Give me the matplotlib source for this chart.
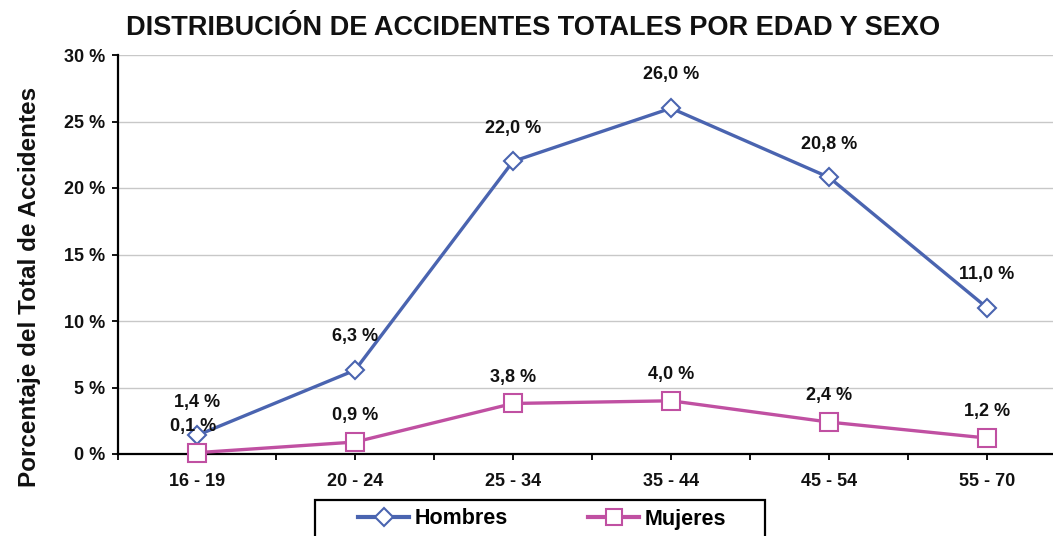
import matplotlib
matplotlib.use("Agg")
import matplotlib.pyplot as plt
from matplotlib.lines import Line2D
from matplotlib.patches import Rectangle

plt.rcParams['font.family'] = ['Liberation Sans', 'DejaVu Sans']
plt.rcParams['font.weight'] = 'bold'

edades   = ['16 - 19', '20 - 24', '25 - 34', '35 - 44', '45 - 54', '55 - 70']
hombres  = [1.4, 6.3, 22.0, 26.0, 20.8, 11.0]
mujeres  = [0.1, 0.9, 3.8, 4.0, 2.4, 1.2]
yticks   = [0, 5, 10, 15, 20, 25, 30]

azul    = '#4a64b0'
magenta = '#c050a2'
txt     = '#111111'

W, H = 1053, 536
fig = plt.figure(figsize=(W/100, H/100), dpi=100)
# plot area runs past the right edge like the original
ax = fig.add_axes([118/W, 1-454/H, (1066-118)/W, (454-55)/H])

x = list(range(len(edades)))
ax.plot(x, hombres, color=azul, lw=2.4, marker='D', ms=9,
        mfc='white', mec=azul, mew=1.5, zorder=3, clip_on=False)
ax.plot(x, mujeres, color=magenta, lw=2.4, marker='s', ms=12.5,
        mfc='white', mec=magenta, mew=1.5, zorder=4, clip_on=False)

def fmt(v):
    return ('%.1f %%' % v).replace('.', ',')

for i, v in enumerate(hombres):
    ax.annotate(fmt(v), (i, v), xytext=(0, 24), textcoords='offset points',
                ha='center', va='center', fontsize=13, color=txt)
for i, v in enumerate(mujeres):
    ax.annotate(fmt(v), (i, v), xytext=(-3 if i == 0 else 0, 19),
                textcoords='offset points',
                ha='center', va='center', fontsize=13, color=txt)

ax.set_xlim(-0.5, 5.5)
ax.set_ylim(0, 30)
ax.set_yticks(yticks)
ax.set_yticklabels(['%d %%' % t for t in yticks], fontsize=13, color=txt)
ax.set_xticks(x)
ax.set_xticklabels(edades, fontsize=13, color=txt)
ax.set_xticks([i + 0.5 for i in range(-1, 6)], minor=True)
ax.tick_params(axis='x', which='both', direction='out', length=4, width=1.3, pad=10)
ax.tick_params(axis='y', direction='out', length=4, width=1.3, pad=5)

ax.grid(True, axis='y', color='#c8c8c8', lw=1)
ax.set_axisbelow(True)
for s in ['top', 'right']:
    ax.spines[s].set_visible(False)
for s in ['left', 'bottom']:
    ax.spines[s].set_linewidth(1.6)
    ax.spines[s].set_color('black')

fig.text(533/W, 1-28/H, 'DISTRIBUCIÓN DE ACCIDENTES TOTALES POR EDAD Y SEXO',
         ha='center', va='center', fontsize=19.5, color=txt)
fig.text(30/W, 1-287/H, 'Porcentaje del Total de Accidentes', rotation=90,
         ha='center', va='center', fontsize=17.5, color=txt)

# legend with a square black frame, cut by the lower edge
fig.patches.append(Rectangle((315/W, -0.03), 450/W, 0.03 + 36/H,
                             transform=fig.transFigure, fill=False,
                             ec='black', lw=1.6))
h1 = Line2D([], [], color=azul, lw=3, marker='D', ms=9, mfc='white', mec=azul, mew=1.5)
h2 = Line2D([], [], color=magenta, lw=3, marker='s', ms=11, mfc='white', mec=magenta, mew=1.5)
fig.legend([h1, h2], ['Hombres', 'Mujeres'], loc='center',
           bbox_to_anchor=(542/W, 1-519/H), ncol=2, frameon=False,
           fontsize=15.5, handlelength=2.4, handletextpad=0.25,
           columnspacing=3.7, borderpad=0)

fig.savefig('out.png', dpi=100, facecolor='white')
